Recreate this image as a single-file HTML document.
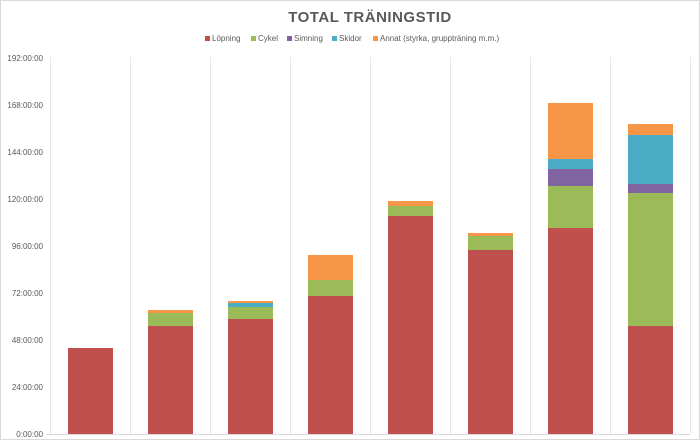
<!DOCTYPE html>
<html><head><meta charset="utf-8"><style>
body{margin:0;background:#fff}
svg text{font-family:"Liberation Sans",sans-serif;fill:#595959}
</style></head><body>
<svg width="700" height="440" xmlns="http://www.w3.org/2000/svg">
<rect x="0.5" y="0.5" width="699" height="439" fill="#fff" stroke="#d9d9d9"/>
<text x="370" y="22" font-size="15" font-weight="bold" text-anchor="middle" fill="#595959" letter-spacing="0.5">TOTAL TRÄNINGSTID</text>
<g font-size="8">
<rect x="205" y="36" width="5" height="5" fill="#c0504d"/><text x="212" y="41">Löpning</text>
<rect x="251" y="36" width="5" height="5" fill="#9bbb59"/><text x="258" y="41">Cykel</text>
<rect x="287" y="36" width="5" height="5" fill="#8064a2"/><text x="294" y="41">Simning</text>
<rect x="332" y="36" width="5" height="5" fill="#4bacc6"/><text x="339" y="41">Skidor</text>
<rect x="373" y="36" width="5" height="5" fill="#f79646"/><text x="380" y="41">Annat (styrka, gruppträning m.m.)</text>
</g>
<g stroke="#e6e6e6" stroke-width="1">
<line x1="50.5" y1="57" x2="50.5" y2="434"/><line x1="130.5" y1="57" x2="130.5" y2="434"/>
<line x1="210.5" y1="57" x2="210.5" y2="434"/><line x1="290.5" y1="57" x2="290.5" y2="434"/>
<line x1="370.5" y1="57" x2="370.5" y2="434"/><line x1="450.5" y1="57" x2="450.5" y2="434"/>
<line x1="530.5" y1="57" x2="530.5" y2="434"/><line x1="610.5" y1="57" x2="610.5" y2="434"/>
<line x1="690.5" y1="57" x2="690.5" y2="434"/>
<line x1="46" y1="434.5" x2="690" y2="434.5" stroke="#d9d9d9"/>
</g>
<g font-size="8" text-anchor="end">
<text x="43" y="437">0:00:00</text><text x="43" y="390">24:00:00</text><text x="43" y="343">48:00:00</text>
<text x="43" y="296">72:00:00</text><text x="43" y="249">96:00:00</text><text x="43" y="202">120:00:00</text>
<text x="43" y="155">144:00:00</text><text x="43" y="108">168:00:00</text><text x="43" y="61">192:00:00</text>
</g>
<g>
<rect x="68" y="348" width="45" height="86" fill="#c0504d"/>
<rect x="148" y="326" width="45" height="108" fill="#c0504d"/><rect x="148" y="313" width="45" height="13" fill="#9bbb59"/><rect x="148" y="310" width="45" height="3" fill="#f79646"/>
<rect x="228" y="319" width="45" height="115" fill="#c0504d"/><rect x="228" y="307" width="45" height="12" fill="#9bbb59"/><rect x="228" y="303" width="45" height="4" fill="#4bacc6"/><rect x="228" y="301" width="45" height="2" fill="#f79646"/>
<rect x="308" y="296" width="45" height="138" fill="#c0504d"/><rect x="308" y="280" width="45" height="16" fill="#9bbb59"/><rect x="308" y="255" width="45" height="25" fill="#f79646"/>
<rect x="388" y="216" width="45" height="218" fill="#c0504d"/><rect x="388" y="206" width="45" height="10" fill="#9bbb59"/><rect x="388" y="201" width="45" height="5" fill="#f79646"/>
<rect x="468" y="250" width="45" height="184" fill="#c0504d"/><rect x="468" y="236" width="45" height="14" fill="#9bbb59"/><rect x="468" y="233" width="45" height="3" fill="#f79646"/>
<rect x="548" y="228" width="45" height="206" fill="#c0504d"/><rect x="548" y="186" width="45" height="42" fill="#9bbb59"/><rect x="548" y="169" width="45" height="17" fill="#8064a2"/><rect x="548" y="159" width="45" height="10" fill="#4bacc6"/><rect x="548" y="103" width="45" height="56" fill="#f79646"/>
<rect x="628" y="326" width="45" height="108" fill="#c0504d"/><rect x="628" y="193" width="45" height="133" fill="#9bbb59"/><rect x="628" y="184" width="45" height="9" fill="#8064a2"/><rect x="628" y="135" width="45" height="49" fill="#4bacc6"/><rect x="628" y="124" width="45" height="11" fill="#f79646"/>
</g>
</svg>
</body></html>
